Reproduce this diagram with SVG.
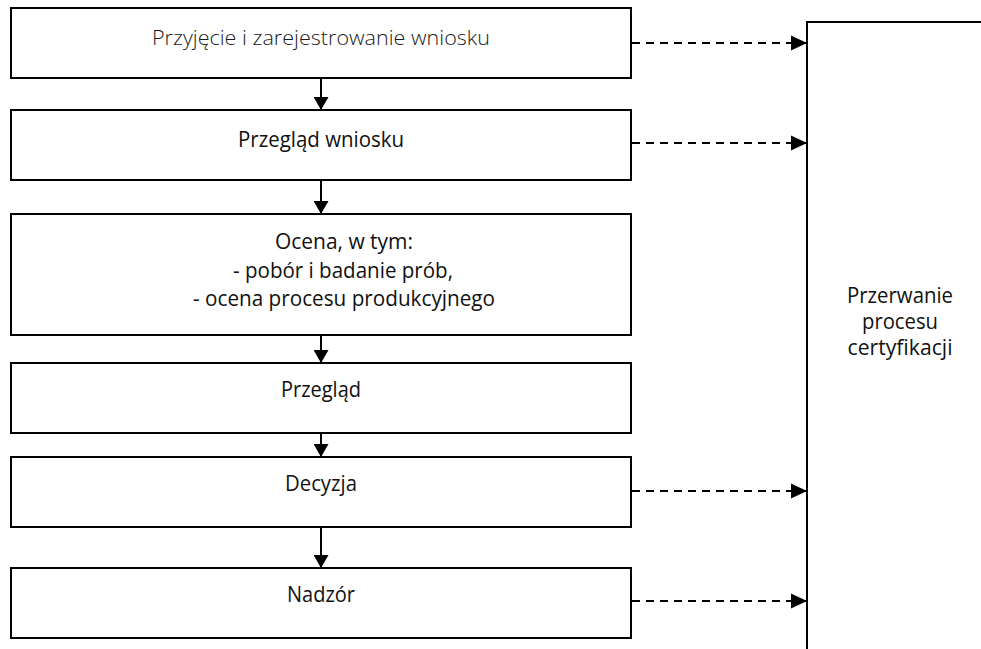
<svg xmlns="http://www.w3.org/2000/svg" width="981" height="649" viewBox="0 0 981 649">
  <style>
    .box { fill: #ffffff; stroke: #000000; stroke-width: 2; }
    .t { font-family: "Open Sans", "Noto Sans", "Liberation Sans", sans-serif; font-size: 21px; fill: #111111; text-anchor: middle; }
    .light { font-weight: 300; fill: #1a1a1a; }
    .solid { stroke: #000000; stroke-width: 2; fill: none; }
    .dash { stroke: #000000; stroke-width: 2; fill: none; stroke-dasharray: 8 6; }
  </style>
  <defs>
    <marker id="ah" markerUnits="userSpaceOnUse" markerWidth="16" markerHeight="16" viewBox="0 0 16 16" refX="16" refY="8" orient="auto">
      <path d="M0,0.5 L16,8 L0,15.5 Z" fill="#000000"/>
    </marker>
    <marker id="av" markerUnits="userSpaceOnUse" markerWidth="13" markerHeight="15" viewBox="0 0 13 15" refX="13" refY="7.5" orient="auto">
      <path d="M0,0 L13,7.5 L0,15 Z" fill="#000000"/>
    </marker>
  </defs>
  <rect width="981" height="649" fill="#ffffff"/>

  <g id="connectors">
    <line class="solid" x1="321" y1="79" x2="321" y2="110" marker-end="url(#av)"/>
    <line class="solid" x1="321" y1="181" x2="321" y2="214" marker-end="url(#av)"/>
    <line class="solid" x1="321" y1="336" x2="321" y2="363" marker-end="url(#av)"/>
    <line class="solid" x1="321" y1="434" x2="321" y2="457" marker-end="url(#av)"/>
    <line class="solid" x1="321" y1="528" x2="321" y2="568" marker-end="url(#av)"/>
    <line class="dash" x1="632" y1="43" x2="807" y2="43" marker-end="url(#ah)"/>
    <line class="dash" x1="632" y1="143" x2="807" y2="143" marker-end="url(#ah)"/>
    <line class="dash" x1="632" y1="491" x2="807" y2="491" marker-end="url(#ah)"/>
    <line class="dash" x1="632" y1="601" x2="807" y2="601" marker-end="url(#ah)"/>
  </g>

  <g id="node-przyjecie">
    <rect class="box" x="11" y="8" width="620" height="70"/>
    <text class="t light" x="321" y="45" textLength="338" lengthAdjust="spacingAndGlyphs">Przyjęcie i zarejestrowanie wniosku</text>
  </g>
  <g id="node-przeglad-wniosku">
    <rect class="box" x="11" y="110" width="620" height="70"/>
    <text class="t" x="321" y="147" textLength="166" lengthAdjust="spacingAndGlyphs">Przegląd wniosku</text>
  </g>
  <g id="node-ocena">
    <rect class="box" x="11" y="214" width="620" height="121"/>
    <text class="t" x="344" y="249" textLength="138" lengthAdjust="spacingAndGlyphs">Ocena, w tym:</text>
    <text class="t" x="343" y="278" textLength="220" lengthAdjust="spacingAndGlyphs">- pobór i badanie prób,</text>
    <text class="t" x="344" y="306" textLength="302" lengthAdjust="spacingAndGlyphs">- ocena procesu produkcyjnego</text>
  </g>
  <g id="node-przeglad">
    <rect class="box" x="11" y="363" width="620" height="70"/>
    <text class="t" x="321" y="397" textLength="80" lengthAdjust="spacingAndGlyphs">Przegląd</text>
  </g>
  <g id="node-decyzja">
    <rect class="box" x="11" y="457" width="620" height="70"/>
    <text class="t" x="321" y="491" textLength="72" lengthAdjust="spacingAndGlyphs">Decyzja</text>
  </g>
  <g id="node-nadzor">
    <rect class="box" x="11" y="568" width="620" height="70"/>
    <text class="t" x="321" y="602" textLength="68" lengthAdjust="spacingAndGlyphs">Nadzór</text>
  </g>
  <g id="node-przerwanie">
    <rect class="box" x="807" y="22" width="200" height="700"/>
    <text class="t" x="900" y="303" textLength="106" lengthAdjust="spacingAndGlyphs">Przerwanie</text>
    <text class="t" x="900" y="329" textLength="76" lengthAdjust="spacingAndGlyphs">procesu</text>
    <text class="t" x="900" y="355" textLength="105" lengthAdjust="spacingAndGlyphs">certyfikacji</text>
  </g>
</svg>
